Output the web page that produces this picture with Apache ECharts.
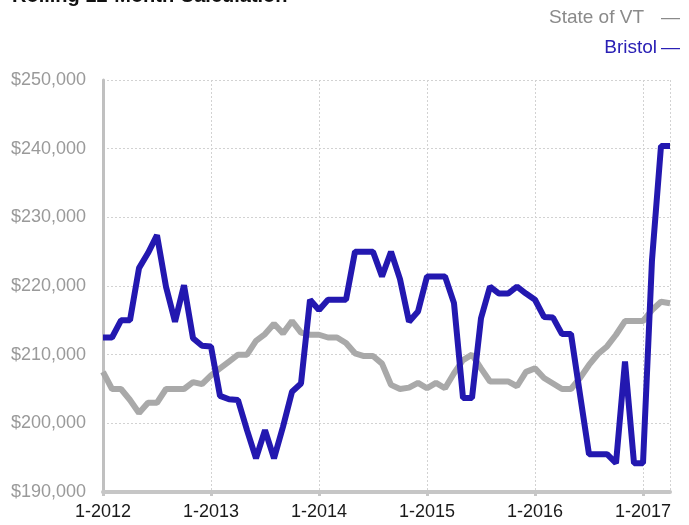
<!DOCTYPE html>
<html>
<head>
<meta charset="utf-8">
<script src="https://cdn.jsdelivr.net/npm/echarts@6/dist/echarts.min.js"></script>
<style>
html,body{margin:0;padding:0;background:#fff;}
#chart{width:689px;height:525px;}
</style>
</head>
<body>
<div id="chart"></div>
<script>
// Months from 1-2012 to 4-2017
var categories = [];
for (var y = 2012; y <= 2017; y++) {
  for (var m = 1; m <= 12; m++) {
    if (y === 2017 && m > 4) break;
    categories.push(m + '-' + y);
  }
}
var titleText = 'Rolling 12-Month Calculation';
var seriesNames = ['State of VT', 'Bristol'];

var stateOfVT = [
  207500, 205000, 205000, 203400, 201500, 203000, 203000, 205000, 205000, 205000, 206000, 205700,
  207000, 208000, 209000, 210000, 210000, 212000, 213000, 214500, 213100, 214900, 213200, 212900,
  212900, 212500, 212500, 211700, 210200, 209800, 209800, 208700, 205600, 205000, 205200, 205900,
  205100, 205900, 205100, 207300, 209200, 210000, 208000, 206100, 206100, 206100, 205400, 207500,
  208000, 206600, 205800, 205000, 205000, 206600, 208500, 210100, 211200, 212900, 214900, 214900,
  214900, 216500, 217700, 217500
];
var bristol = [
  212500, 212500, 215000, 215000, 222600, 224800, 227400, 219900, 214800, 220100, 212400, 211300,
  211200, 204000, 203500, 203400, 199000, 194900, 199000, 194900, 199500, 204600, 205800, 218000,
  216500, 218000, 218000, 218000, 225000, 225000, 225000, 221400, 225000, 221000, 214800, 216300,
  221400, 221400, 221400, 217500, 203700, 203700, 215300, 219900, 218900, 218900, 219900, 218900,
  218000, 215500, 215400, 213000, 213000, 204200, 195500, 195500, 195500, 194200, 209000, 194200,
  194200, 223800, 240400, 240400
];
categories = categories.slice(0, bristol.length);

var chart = echarts.init(document.getElementById('chart'));
var FONT = 'Liberation Sans, Arial, Helvetica, sans-serif';
chart.setOption({
  animation: false,
  backgroundColor: '#fff',
  grid: {left: 103, right: 19, top: 80, bottom: 33, containLabel: false},
  graphic: [
    {type: 'text', left: 12, top: -14, style: {text: titleText, font: 'bold 20px ' + FONT, fill: '#111'}},
    {type: 'text', right: 45, top: 8, style: {text: seriesNames[0], font: '19px ' + FONT, fill: '#8a8a8a'}},
    {type: 'text', right: 9, top: 8, style: {text: '\u2014', font: '19px ' + FONT, fill: '#8a8a8a'}},
    {type: 'text', right: 32, top: 38, style: {text: seriesNames[1], font: '19px ' + FONT, fill: '#2a20b5'}},
    {type: 'text', right: 9, top: 38, style: {text: '\u2014', font: '19px ' + FONT, fill: '#2a20b5'}}
  ],
  xAxis: {
    type: 'category',
    data: categories,
    boundaryGap: false,
    axisLine: {lineStyle: {color: '#c6c6c6', width: 4}},
    axisTick: {show: true, length: 4, lineStyle: {color: '#c6c6c6', width: 3},
      interval: function (i) { return i % 12 === 0; }},
    axisLabel: {
      interval: function (i) { return i % 12 === 0; },
      color: '#1a1a1a', fontSize: 18, fontFamily: FONT, margin: 11
    },
    splitLine: {show: true, interval: function (i) { return i % 12 === 0 || i === categories.length - 1; },
      lineStyle: {color: '#d2d2d2', type: [2, 2], width: 1}}
  },
  yAxis: {
    type: 'value',
    min: 190000, max: 250000, interval: 10000,
    axisLine: {show: true, lineStyle: {color: '#c0c0c0', width: 3}},
    axisTick: {show: false},
    axisLabel: {
      color: '#9a9a9a', fontSize: 18, fontFamily: FONT, margin: 17,
      formatter: function (v) { return '$' + v.toLocaleString('en-US'); }
    },
    splitLine: {show: true, lineStyle: {color: '#d2d2d2', type: [2, 2], width: 1}}
  },
  series: [
    {name: seriesNames[0], type: 'line', data: stateOfVT, symbol: 'none', z: 2,
      lineStyle: {color: '#a9a9a9', width: 6}, itemStyle: {color: '#a9a9a9'}},
    {name: seriesNames[1], type: 'line', data: bristol, symbol: 'none', z: 3,
      lineStyle: {color: '#2318b0', width: 6}, itemStyle: {color: '#2318b0'}}
  ]
});
</script>
</body>
</html>
